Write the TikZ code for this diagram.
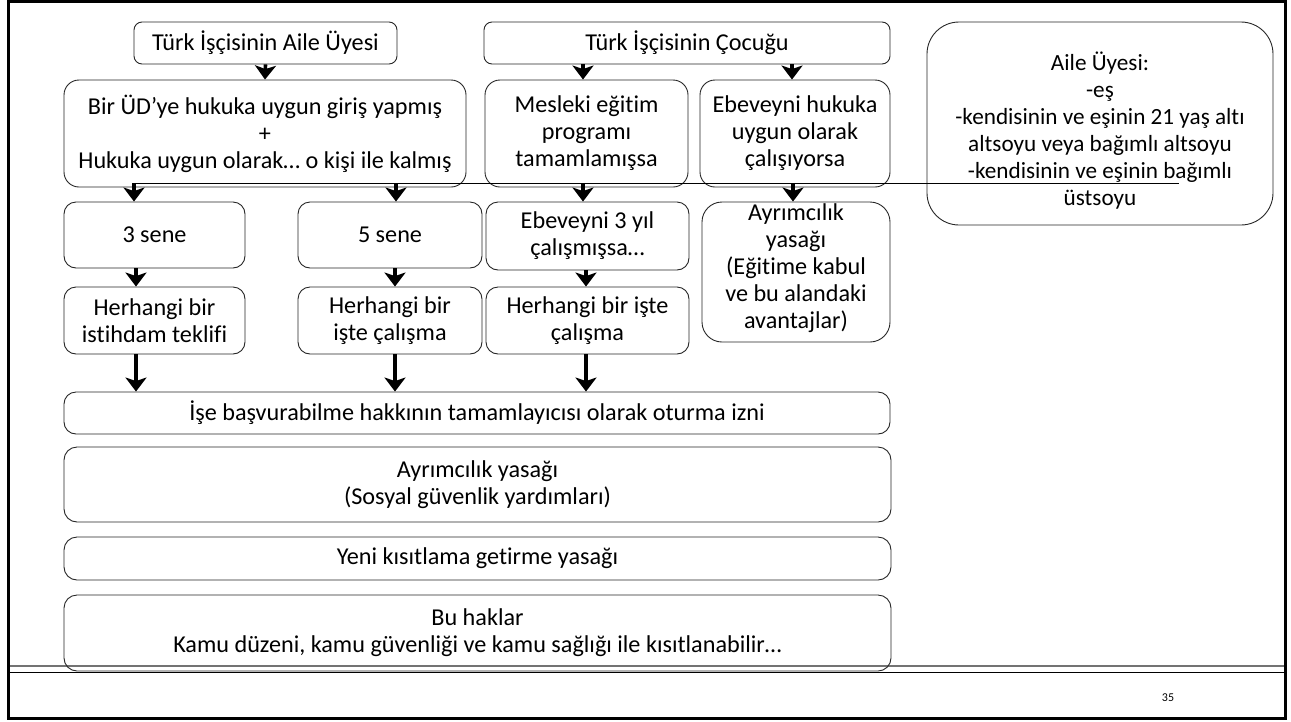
\documentclass[tikz,border=0pt]{standalone}
\usepackage{fontspec}
\setmainfont{Carlito}[Ligatures=NoCommon]
\usetikzlibrary{arrows.meta}
\newcommand\bx[7]{\node[box, rounded corners=#6pt, minimum width={#4-#2}, minimum height={#5-#3}] (#1) at ({(#2+#4)/2},{(#3+#5)/2}) {#7};}
\begin{document}
\begin{tikzpicture}[x=1pt,y=-1pt,
  box/.style={draw=black!85, line width=0.9pt, align=center, inner sep=0pt, font=\fontsize{24.2}{27}\selectfont},
  arr/.style={line width=3.6pt, -{Stealth[length=14pt,width=21pt,inset=3.5pt]}},
  stray/.style={line width=1pt, black},
]
\useasboundingbox (0,0) rectangle (1291,721);
% frame
\draw[line width=2.7pt] (8.7,1.4) rectangle (1285.5,718.3);
\draw[line width=2pt, black!55] (10,666) -- (1284,666);
\draw[line width=1.3pt] (10,672.5) -- (1284,672.5);
\node[font=\fontsize{12}{14}\selectfont] (pg) at (1168,698) {35};

% top row
\bx{a}{134}{22}{397}{64}{8}{Türk İşçisinin Aile Üyesi}
\bx{b}{484}{22}{890}{64}{8}{Türk İşçisinin Çocuğu}
\node[box, rounded corners=32pt, minimum width=346, minimum height=203] (r) at (1100,123.5) {};
\node[font=\fontsize{23.2}{27}\selectfont, align=center, inner sep=0pt] (rt) at (1100,131)
  {Aile Üyesi:\\-eş\\-kendisinin ve eşinin 21 yaş altı\\altsoyu veya bağımlı altsoyu\\-kendisinin ve eşinin bağımlı\\üstsoyu};

% second row
\bx{c}{64}{80}{466}{187}{15}{Bir ÜD’ye hukuka uygun giriş yapmış\\+\\Hukuka uygun olarak… o kişi ile kalmış}
\bx{d}{485}{80}{688}{187}{15}{Mesleki eğitim\\programı\\tamamlamışsa}
\bx{e}{700}{80}{890}{187}{15}{Ebeveyni hukuka\\uygun olarak\\çalışıyorsa}

% third row
\bx{s3}{64}{202}{245}{268}{12}{3 sene}
\bx{s5}{298}{202}{482}{268}{12}{5 sene}
\bx{e3}{486}{202}{689}{270}{12}{Ebeveyni 3 yıl\\çalışmışsa…}
\node[box, rounded corners=20pt, minimum width=188, minimum height=140] (ay) at (796,272) {};
\node[font=\fontsize{24.2}{27}\selectfont, align=center, inner sep=0pt] (ayt) at (796,268.5)
  {Ayrımcılık\\yasağı\\(Eğitime kabul\\ve bu alandaki\\avantajlar)};

% fourth row
\bx{h1}{64}{287}{245}{354}{12}{Herhangi bir\\istihdam teklifi}
\bx{h2}{298}{287}{482}{354}{12}{Herhangi bir\\işte çalışma}
\bx{h3}{486}{287}{689}{354}{12}{Herhangi bir işte\\çalışma}

% wide boxes
\bx{ise}{64}{392}{890}{434}{12}{İşe başvurabilme hakkının tamamlayıcısı olarak oturma izni}
\bx{ay2}{64}{447}{891}{522}{13}{Ayrımcılık yasağı\\(Sosyal güvenlik yardımları)}
\bx{yk}{64}{537}{891}{580}{13}{Yeni kısıtlama getirme yasağı}
\bx{bh}{64}{595}{891}{671}{13}{Bu haklar\\Kamu düzeni, kamu güvenliği ve kamu sağlığı ile kısıtlanabilir…}

% stray line
\coordinate (l1) at (134,183);
\coordinate (l2) at (1179,183);
\draw[stray] (l1) -- (l2);

% arrows
\draw[arr] (a.south) -- (c.north);
\draw[arr] (b.south -| 583,0) -- (d.north -| 583,0);
\draw[arr] (b.south -| 792,0) -- (e.north -| 792,0);
\draw[arr] (l1) -- (s3.north -| l1);
\draw[arr] (c.south -| 396,0) ++(0,-4) -- (s5.north -| 396,0);
\draw[arr] (d.south -| 583,0) ++(0,-4) -- (e3.north -| 583,0);
\draw[arr] (e.south -| 793,0) ++(0,-4) -- (ay.north -| 793,0);
\draw[arr] (s3.south -| 136,0) -- (h1.north -| 136,0);
\draw[arr] (s5.south -| 395,0) -- (h2.north -| 395,0);
\draw[arr] (e3.south -| 586,0) -- (h3.north -| 586,0);
\draw[arr] (h1.south -| 136,0) -- (ise.north -| 136,0);
\draw[arr] (h2.south -| 395,0) -- (ise.north -| 395,0);
\draw[arr] (h3.south -| 586,0) -- (ise.north -| 586,0);
\end{tikzpicture}
\end{document}
